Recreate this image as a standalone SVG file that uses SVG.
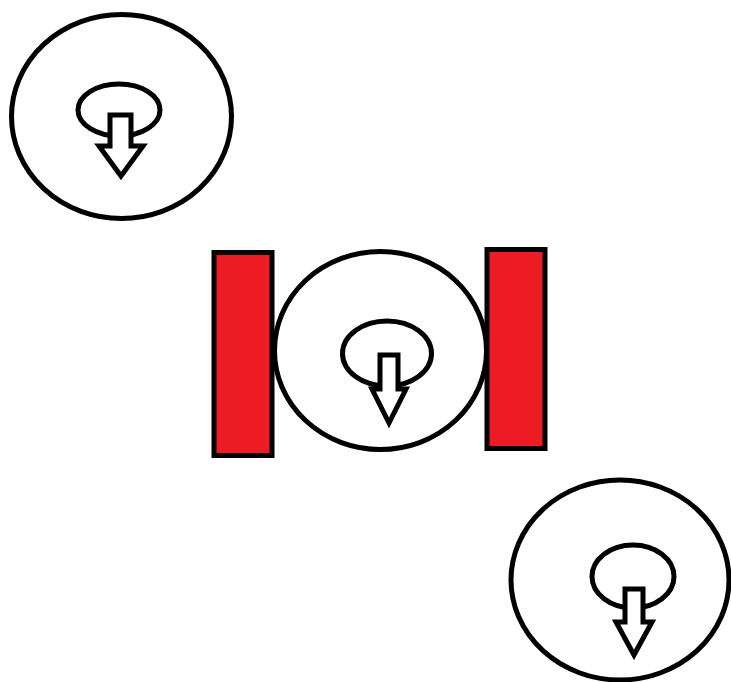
<svg xmlns="http://www.w3.org/2000/svg" width="731" height="682" viewBox="0 0 731 682">
<style>
.o{fill:none;stroke:#000;stroke-width:5}
.i{fill:none;stroke:#000;stroke-width:5}
.a{fill:#fff;stroke:#000;stroke-width:5;stroke-linejoin:miter}
.r{fill:#ed1c24;stroke:#000;stroke-width:5}
</style>
<rect width="731" height="682" fill="#fff"/>
<g id="wheel1">
<ellipse class="o" cx="121.5" cy="116.5" rx="110" ry="102"/>
<ellipse class="i" cx="119" cy="110" rx="41" ry="26"/>
<polygon class="a" points="110,115 131,115 131,146 143,146 121,176 99,146 110,146"/>
</g>
<g id="rectLeft"><rect class="r" x="214" y="252.5" width="58" height="203"/></g>
<g id="rectRight"><rect class="r" x="487" y="249.5" width="58" height="199"/></g>
<g id="wheel2">
<ellipse class="o" cx="380.5" cy="350.5" rx="106" ry="99"/>
<ellipse class="i" cx="387" cy="353.5" rx="44.5" ry="32.5"/>
<polygon class="a" points="380,355 398,355 398,389 406,389 389,423 372,389 380,389"/>
</g>
<g id="wheel3">
<ellipse class="o" cx="620" cy="580" rx="109" ry="100"/>
<ellipse class="i" cx="633" cy="576.5" rx="41" ry="31.5"/>
<polygon class="a" points="625,589 643,589 643,622 652,622 634,655 616,622 625,622"/>
</g>
<g id="connectors"/>
</svg>
